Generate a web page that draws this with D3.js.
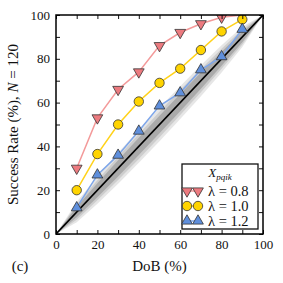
<!DOCTYPE html>
<html lang="en">
<head>
    <meta charset="UTF-8">
    <title>Success rate vs DoB</title>
    <script src="https://d3js.org/d3.v7.min.js"></script>
    <style>
        body { margin: 0; background: #fff; }
        text { font-family: "Liberation Serif", "DejaVu Serif", serif; fill: #111; }
        .axis path { display: none; }
        .axis line { stroke: #111; stroke-width: 1; }
        .axis text { font-size: 13px; }
    </style>
</head>
<body>
    <svg width="283" height="283"></svg>
    <script>
        // data
        const dob = [10, 20, 30, 40, 50, 60, 70, 80, 90];
        const lambda08 = [30, 53, 66, 74, 86, 92, 96, 99, 100];
        const lambda10 = [20, 36.5, 50, 60.5, 69, 75.5, 84, 92.5, 98];
        const lambda12 = [12, 27, 36, 47, 58.5, 64.5, 75, 81, 93.5];

        // gray bands around the diagonal (half widths, percentage points)
        const bandX = [0, 10, 20, 30, 40, 50, 60, 70, 80, 90, 100];
        const bandInner = [0, 2.4, 3.2, 3.7, 3.9, 4.0, 3.9, 3.7, 3.2, 2.4, 0];
        const bandMid = [0, 3.5, 4.6, 5.3, 5.7, 5.8, 5.7, 5.3, 4.6, 3.5, 0];
        const bandOuter = [0, 4.6, 6.2, 7.1, 7.5, 7.7, 7.5, 7.1, 6.2, 4.6, 0];

        const xTicks = [0, 10, 20, 30, 40, 50, 60, 70, 80, 90, 100];
        const series = [
            { label: "λ = 0.8", values: lambda08, line: "#f39a9a", fill: "#ec7a7f", shape: "down" },
            { label: "λ = 1.0", values: lambda10, line: "#ffd21a", fill: "#ffd400", shape: "circle" },
            { label: "λ = 1.2", values: lambda12, line: "#7ea6ea", fill: "#5f8fdc", shape: "up" }
        ];

        const svg = d3.select("svg");
        const x = d3.scaleLinear().domain([0, 100]).range([56, 263]);
        const y = d3.scaleLinear().domain([0, 100]).range([234, 15]);

        // bands
        const bands = [
            { w: bandOuter, c: "#e6e6e6" },
            { w: bandMid, c: "#cdcdcd" },
            { w: bandInner, c: "#aaaaaa" }
        ];
        const area = d3.area()
            .x((d, i) => x(bandX[i]))
            .y0((d, i) => y(bandX[i] - d))
            .y1((d, i) => y(bandX[i] + d));
        svg.append("clipPath").attr("id", "clip")
            .append("rect").attr("x", x(0)).attr("y", y(100))
            .attr("width", x(100) - x(0)).attr("height", y(0) - y(100));
        const plot = svg.append("g").attr("clip-path", "url(#clip)");
        bands.forEach(b => {
            plot.append("path").attr("d", area(b.w)).attr("fill", b.c);
        });

        // diagonal
        plot.append("line")
            .attr("x1", x(0)).attr("y1", y(0))
            .attr("x2", x(100)).attr("y2", y(100))
            .attr("stroke", "#000").attr("stroke-width", 1.6);

        // axes with ticks inside on all sides
        const fmt = d => d % 20 === 0 ? d : "";
        svg.append("g").attr("class", "axis")
            .attr("transform", `translate(0,${y(0)})`)
            .call(d3.axisBottom(x).tickValues(xTicks).tickSize(-4).tickPadding(6).tickFormat(fmt));
        svg.append("g").attr("class", "axis")
            .attr("transform", `translate(${x(0)},0)`)
            .call(d3.axisLeft(y).tickValues(xTicks).tickSize(-4).tickPadding(6).tickFormat(fmt));
        svg.append("g").attr("class", "axis")
            .attr("transform", `translate(0,${y(100)})`)
            .call(d3.axisTop(x).tickValues(xTicks).tickSize(-4).tickFormat(""));
        svg.append("g").attr("class", "axis")
            .attr("transform", `translate(${x(100)},0)`)
            .call(d3.axisRight(y).tickValues(xTicks).tickSize(-4).tickFormat(""));

        // series (lines and markers clipped to the axes area)
        const tri = d3.symbol().type(d3.symbolTriangle).size(50);
        function marker(g, shape, fill) {
            if (shape === "circle") {
                g.append("circle").attr("r", 4.7);
            } else {
                g.append("path").attr("d", tri())
                    .attr("transform", shape === "down" ? "rotate(180)" : null);
            }
            g.selectAll("*").attr("fill", fill).attr("stroke", "#333").attr("stroke-width", 0.8);
        }
        const line = d3.line().x((d, i) => x(dob[i])).y(d => y(d));
        series.forEach(s => {
            plot.append("path").attr("d", line(s.values))
                .attr("fill", "none").attr("stroke", s.line).attr("stroke-width", 1.5);
            s.values.forEach((v, i) => {
                const g = plot.append("g").attr("transform", `translate(${x(dob[i])},${y(v)})`);
                marker(g, s.shape, s.fill);
            });
        });

        // frame
        svg.append("rect")
            .attr("x", x(0)).attr("y", y(100))
            .attr("width", x(100) - x(0)).attr("height", y(0) - y(100))
            .attr("fill", "none").attr("stroke", "#000").attr("stroke-width", 1.5);

        // legend
        const lg = svg.append("g").attr("transform", "translate(182,164)");
        lg.append("rect").attr("width", 76).attr("height", 65)
            .attr("fill", "#fff").attr("stroke", "#111").attr("stroke-width", 1.3);
        const title = lg.append("text").attr("x", 38).attr("y", 13).attr("text-anchor", "middle")
            .attr("font-size", 13).attr("font-style", "italic");
        title.append("tspan").text("X");
        title.append("tspan").attr("dy", 3).attr("font-size", 9).text("pqik");
        series.forEach((s, i) => {
            const row = lg.append("g").attr("transform", `translate(0,${27 + i * 15})`);
            row.append("line").attr("x1", 5).attr("x2", 16)
                .attr("stroke", s.line).attr("stroke-width", 1.5);
            [5, 16].forEach(px => marker(row.append("g").attr("transform", `translate(${px},0)`), s.shape, s.fill));
            row.append("text").attr("x", 26).attr("dy", "0.35em").attr("font-size", 14.5).text(s.label);
        });

        // labels
        const yl = svg.append("text")
            .attr("transform", `translate(13,${(y(0) + y(100)) / 2}) rotate(-90)`)
            .attr("text-anchor", "middle").attr("dy", "0.35em").attr("font-size", 15);
        yl.append("tspan").text("Success Rate (%), ");
        yl.append("tspan").attr("font-style", "italic").text("N");
        yl.append("tspan").text(" = 120");

        svg.append("text").attr("x", (x(0) + x(100)) / 2).attr("y", 266)
            .attr("text-anchor", "middle").attr("dy", "0.35em").attr("font-size", 15).text("DoB (%)");
        svg.append("text").attr("x", 20).attr("y", 266)
            .attr("text-anchor", "middle").attr("dy", "0.35em").attr("font-size", 15).text("(c)");
    </script>
</body>
</html>
